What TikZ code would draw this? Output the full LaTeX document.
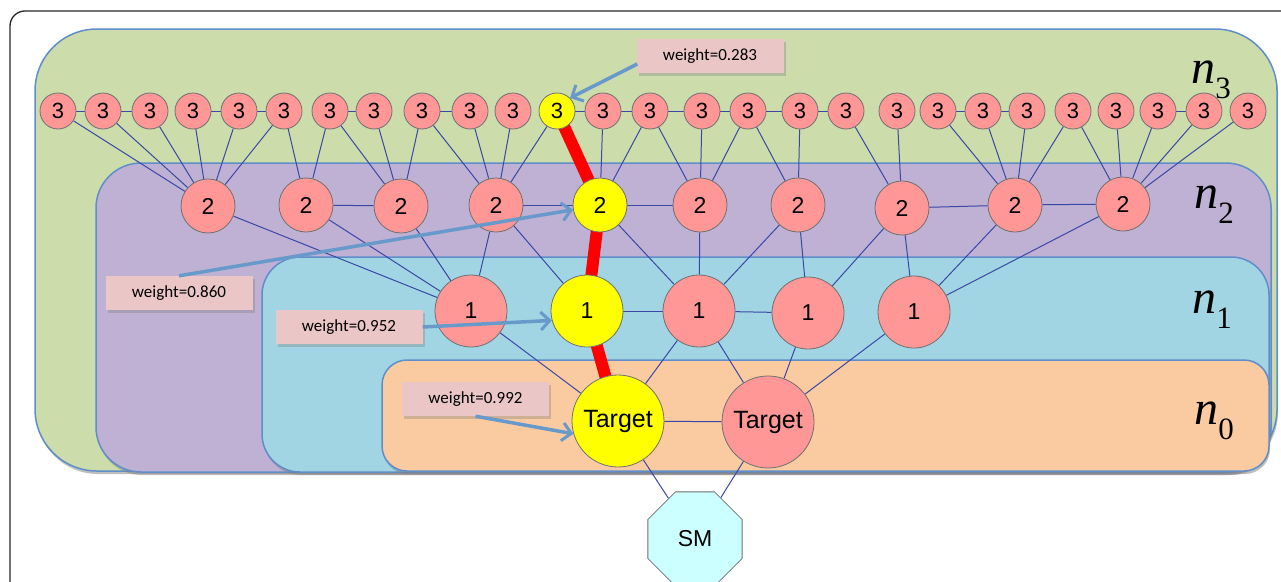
\documentclass[tikz,border=0pt]{standalone}
\usepackage{fontspec}
\setmainfont{Liberation Sans}
\newfontfamily\calib{Carlito}
\newfontfamily\tms{Liberation Serif}
\usetikzlibrary{shapes.geometric,arrows.meta,shadows,calc}
\pgfdeclarelayer{regions}
\pgfdeclarelayer{edges}
\pgfsetlayers{regions,edges,main}
\definecolor{rgreen}{RGB}{204,220,171}
\definecolor{rpurple}{RGB}{190,177,211}
\definecolor{rcyan}{RGB}{161,213,227}
\definecolor{rorange}{RGB}{250,203,161}
\definecolor{rborder}{RGB}{95,142,202}
\definecolor{salmon}{RGB}{255,151,151}
\definecolor{hl}{RGB}{255,255,0}
\definecolor{nodeline}{RGB}{112,112,112}
\definecolor{edgecol}{RGB}{58,72,165}
\definecolor{arrowcol}{RGB}{104,153,203}
\definecolor{wfill}{RGB}{235,198,198}
\definecolor{smfill}{RGB}{204,255,255}
\definecolor{framecol}{RGB}{40,40,40}
\begin{document}
\begin{tikzpicture}[x=1pt,y=-1pt,
  region/.style={draw=rborder, line width=1.5pt, drop shadow={shadow xshift=1pt, shadow yshift=-3pt, opacity=0.5}},
  basenode/.style={circle, draw=nodeline, line width=0.8pt, inner sep=0pt, text=black},
  n3/.style={basenode, minimum size=36pt, font=\fontsize{22}{22}\selectfont},
  n2/.style={basenode, minimum size=54pt, font=\fontsize{23}{23}\selectfont},
  n1/.style={basenode, minimum size=72pt, font=\fontsize{23}{23}\selectfont},
  tg/.style={basenode, minimum size=92pt, font=\fontsize{25}{25}\selectfont},
  smnode/.style={regular polygon, regular polygon sides=8, draw=nodeline, line width=0.8pt, fill=smfill, minimum size=102pt, inner sep=0pt, font=\fontsize{23}{23}\selectfont},
  edge/.style={draw=edgecol, line width=1pt},
  redpath/.style={draw=red, line width=12pt},
  wbox/.style={fill=wfill, minimum width=147pt, minimum height=34pt, inner sep=0pt, font=\calib\fontsize{17}{17}\selectfont, drop shadow={shadow xshift=2pt, shadow yshift=-3pt, opacity=0.35}},
  warrow/.style={draw=arrowcol, line width=3.5pt, -{Straight Barb[length=9pt,width=18pt,line width=3pt]}},
  nlab/.style={inner sep=0pt, font=\tms\fontsize{48}{48}\selectfont}
]
\useasboundingbox (0,0) rectangle (1281,581);
\clip (0,0) rectangle (1281,581);

\begin{pgfonlayer}{regions}
\fill[white] (0,0) rectangle (1281,581);
\draw[framecol, line width=1.3pt, rounded corners=15pt] (10,11) rectangle (1330,640);
\filldraw[region, fill=rgreen, rounded corners=62pt] (35,29) rectangle (1277,471);
\filldraw[region, fill=rpurple, rounded corners=45pt] (96,163) rectangle (1271,472);
\filldraw[region, fill=rcyan, rounded corners=38pt] (262,257) rectangle (1269,472);
\filldraw[region, fill=rorange, rounded corners=25pt] (382,360) rectangle (1269,471);
\end{pgfonlayer}

% level 3
\foreach \x [count=\i] in {58,103,150,193,239,284,330,374,422,470,513,557,603,650,702,748,800,846,897,938,983,1027,1073,1116,1158,1204,1248}{
  \ifnum\i=12 \def\fc{hl}\else\def\fc{salmon}\fi
  \node[n3, fill=\fc] (t\i) at (\x,111) {3};
}
% level 2
\foreach \x/\y [count=\i] in {208/206,306/205,401/206,496/205,600/205,700/205,798/205,902/208,1015/205,1123/204}{
  \ifnum\i=5 \def\fc{hl}\else\def\fc{salmon}\fi
  \node[n2, fill=\fc] (s\i) at (\x,\y) {2};
}
% level 1
\foreach \x/\y [count=\i] in {471/311,587/311,699/311,808/313,914/312}{
  \ifnum\i=2 \def\fc{hl}\else\def\fc{salmon}\fi
  \node[n1, fill=\fc] (r\i) at (\x,\y) {1};
}
% targets
\node[tg, fill=hl] (T1) at (618,421) {Target};
\node[tg, fill=salmon] (T2) at (768,422) {Target};
\node[smnode] (SM) at (695,539) {SM};

\begin{pgfonlayer}{edges}
\foreach \a/\b in {t1/t2,t2/t3,t4/t5,t5/t6,t7/t8,t9/t10,t12/t13,t13/t14,t14/t15,t15/t16,t16/t17,t17/t18,t20/t21,t21/t22,t25/t26,
  t1/s1,t2/s1,t3/s1,t4/s1,t5/s1,t6/s1,t6/s2,t7/s2,t7/s3,t8/s3,t9/s3,t9/s4,t10/s4,t11/s4,t12/s4,
  t13/s5,t14/s5,t14/s6,t15/s6,t16/s6,t16/s7,t17/s7,t18/s8,t19/s8,
  t20/s9,t21/s9,t22/s9,t23/s9,t23/s10,t24/s10,t25/s10,t26/s10,t27/s10,
  s2/s3,s4/s5,s5/s6,s8/s9,s9/s10,
  s1/r1,s2/r1,s3/r1,s4/r1,s4/r2,s5/r3,s6/r3,s7/r3,s7/r4,s8/r4,s8/r5,s9/r5,s10/r5,
  r2/r3,r3/r4,
  r1/T1,r3/T1,r3/T2,r4/T2,r5/T2,T1/T2,T1/SM,T2/SM}
  \draw[edge] (\a) -- (\b);
\draw[redpath] (t12.center) -- (s5.center) -- (r2.center) -- (T1.center);
\end{pgfonlayer}

% weight labels
\node[wbox] (w283) at (710,56) {weight=0.283};
\node[wbox] (w860) at (179,293) {weight=0.860};
\node[wbox] (w952) at (349,327) {weight=0.952};
\node[wbox] (w992) at (475.5,399) {weight=0.992};

\draw[warrow] ($(w283.west)+(1,8)$) -- (t12.45);
\draw[warrow] (w860.north) -- (s5.190);
\draw[warrow] (w952.east) -- (r2.195);
\draw[warrow] (w992.south) -- (T1.196);

% level labels
\node[nlab] (L3) at (1211,80) {\itshape n\raisebox{-0.32em}{\upshape\fontsize{31}{31}\selectfont 3}};
\node[nlab] (L2) at (1214,205) {\itshape n\raisebox{-0.32em}{\upshape\fontsize{31}{31}\selectfont 2}};
\node[nlab] (L1) at (1212,310) {\itshape n\raisebox{-0.32em}{\upshape\fontsize{31}{31}\selectfont 1}};
\node[nlab] (L0) at (1214,421) {\itshape n\raisebox{-0.32em}{\upshape\fontsize{31}{31}\selectfont 0}};
\end{tikzpicture}
\end{document}
